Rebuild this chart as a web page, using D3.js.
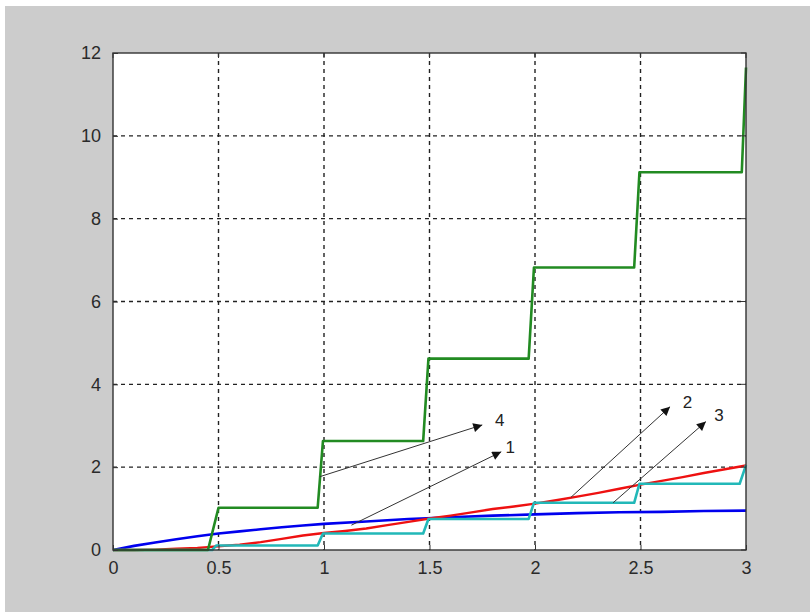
<!DOCTYPE html>
<html>
<head>
<meta charset="utf-8">
<script src="https://cdn.jsdelivr.net/npm/d3@7"></script>
<style>
  html, body { margin: 0; padding: 0; background: #ffffff; }
  svg { display: block; }
  text { font-family: "Liberation Sans", Arial, sans-serif; }
</style>
</head>
<body>
<script>
// ---- data ----
const xTicks = [0, 0.5, 1, 1.5, 2, 2.5, 3];
const xTickLabels = ["0", "0.5", "1", "1.5", "2", "2.5", "3"];
const yTicks = [0, 2, 4, 6, 8, 10, 12];
const yTickLabels = ["0", "2", "4", "6", "8", "10", "12"];

// curve 1 (blue)
const blueT = [0, 0.1, 0.2, 0.3, 0.4, 0.5, 0.6, 0.7, 0.8, 0.9, 1.0, 1.2, 1.4, 1.6, 1.8, 2.0, 2.2, 2.4, 2.6, 2.8, 3.0];
const blueV = [0, 0.10, 0.18, 0.26, 0.33, 0.40, 0.45, 0.50, 0.55, 0.59, 0.63, 0.69, 0.75, 0.79, 0.83, 0.86, 0.89, 0.91, 0.92, 0.94, 0.95];

// curve 2 (red)
const redT = [0, 0.1, 0.2, 0.3, 0.4, 0.45, 0.5, 0.6, 0.7, 0.8, 0.9, 1.0, 1.1, 1.2, 1.3, 1.4, 1.5, 1.6, 1.7, 1.8, 1.9, 2.0, 2.1, 2.2, 2.3, 2.4, 2.5, 2.6, 2.7, 2.8, 2.9, 3.0];
const redV = [0, 0.00, 0.01, 0.03, 0.05, 0.07, 0.09, 0.13, 0.19, 0.27, 0.35, 0.41, 0.46, 0.52, 0.60, 0.68, 0.76, 0.83, 0.91, 0.99, 1.05, 1.12, 1.20, 1.29, 1.38, 1.48, 1.58, 1.67, 1.76, 1.86, 1.95, 2.04];

// curve 3 (cyan)
const cyanT = [0, 0.47, 0.49, 0.97, 0.995, 1.47, 1.495, 1.97, 1.995, 2.47, 2.495, 2.97, 3.0];
const cyanV = [0, 0, 0.11, 0.11, 0.40, 0.40, 0.75, 0.75, 1.14, 1.14, 1.60, 1.60, 2.05];

// curve 4 (green)
const greenT = [0, 0.45, 0.50, 0.97, 0.995, 1.47, 1.495, 1.97, 1.995, 2.47, 2.495, 2.98, 3.0];
const greenV = [0, 0, 1.02, 1.02, 2.63, 2.63, 4.62, 4.62, 6.82, 6.82, 9.12, 9.12, 11.65];

// annotations: arrow start, arrow tip, label
const annLabels = ["4", "1", "2", "3"];
const annStartT = [0.98, 1.13, 2.17, 2.37];
const annStartV = [1.77, 0.60, 1.27, 1.14];
const annTipT = [1.75, 1.84, 2.64, 2.81];
const annTipV = [3.02, 2.37, 3.46, 3.10];
const annLabelT = [1.81, 1.86, 2.70, 2.85];
const annLabelV = [3.14, 2.48, 3.58, 3.26];

// ---- layout ----
const W = 810, H = 612;
const plot = { left: 113, right: 746, top: 53, bottom: 550 };

const svg = d3.select("body").append("svg").attr("width", W).attr("height", H);
svg.append("rect").attr("x", 5).attr("y", 6).attr("width", W - 5).attr("height", H - 6).attr("fill", "#cccccc");

const x = d3.scaleLinear().domain([0, 3]).range([plot.left, plot.right]);
const y = d3.scaleLinear().domain([0, 12]).range([plot.bottom, plot.top]);

svg.append("rect").attr("x", plot.left).attr("y", plot.top)
  .attr("width", plot.right - plot.left).attr("height", plot.bottom - plot.top).attr("fill", "#ffffff");

// grid
const grid = svg.append("g");
grid.selectAll("line.gx").data(xTicks.slice(1, -1)).enter().append("line")
  .attr("x1", d => x(d)).attr("x2", d => x(d)).attr("y1", plot.top).attr("y2", plot.bottom)
  .attr("stroke", "#222").attr("stroke-width", 1.4).attr("stroke-dasharray", "4,4");
grid.selectAll("line.gy").data(yTicks.slice(1, -1)).enter().append("line")
  .attr("y1", d => y(d)).attr("y2", d => y(d)).attr("x1", plot.left).attr("x2", plot.right)
  .attr("stroke", "#222").attr("stroke-width", 1.4).attr("stroke-dasharray", "4,4");

// curves
function zip(ts, vs) { return ts.map((t, i) => [t, vs[i]]); }
const line = d3.line().x(d => x(d[0])).y(d => y(d[1]));
const curves = [
  { data: zip(blueT, blueV), color: "#0000ee", w: 2.6 },
  { data: zip(redT, redV), color: "#ee1111", w: 2.4 },
  { data: zip(cyanT, cyanV), color: "#22b8b8", w: 2.6 },
  { data: zip(greenT, greenV), color: "#228b22", w: 2.6 }
];
const cg = svg.append("g");
curves.forEach(c => {
  cg.append("path").datum(c.data).attr("d", line).attr("fill", "none")
    .attr("stroke", c.color).attr("stroke-width", c.w).attr("stroke-linejoin", "round");
});

// annotations
const defs = svg.append("defs");
defs.append("marker").attr("id", "arr").attr("viewBox", "0 0 10 10").attr("refX", 10).attr("refY", 5)
  .attr("markerWidth", 14).attr("markerHeight", 9).attr("markerUnits", "userSpaceOnUse")
  .attr("orient", "auto")
  .append("path").attr("d", "M0,0 L10,5 L0,10 Z").attr("fill", "#111");
const ag = svg.append("g");
annLabels.forEach((lab, i) => {
  ag.append("line").attr("x1", x(annStartT[i])).attr("y1", y(annStartV[i]))
    .attr("x2", x(annTipT[i])).attr("y2", y(annTipV[i]))
    .attr("stroke", "#333").attr("stroke-width", 1).attr("marker-end", "url(#arr)");
  ag.append("text").attr("x", x(annLabelT[i])).attr("y", y(annLabelV[i]))
    .attr("dy", "0.35em").attr("font-size", 17).attr("fill", "#222").text(lab);
});

// axes box
const axG = svg.append("g");
axG.append("rect").attr("x", plot.left).attr("y", plot.top)
  .attr("width", plot.right - plot.left).attr("height", plot.bottom - plot.top)
  .attr("fill", "none").attr("stroke", "#333").attr("stroke-width", 1.4);

const xAxis = d3.axisBottom(x).tickValues(xTicks).tickFormat((d, i) => xTickLabels[i]).tickSizeInner(-5).tickSizeOuter(0).tickPadding(11);
const xa = svg.append("g").attr("transform", `translate(0,${plot.bottom})`).call(xAxis);
const yAxis = d3.axisLeft(y).tickValues(yTicks).tickFormat((d, i) => yTickLabels[i]).tickSizeInner(-5).tickSizeOuter(0).tickPadding(12);
const ya = svg.append("g").attr("transform", `translate(${plot.left},0)`).call(yAxis);
[xa, ya].forEach(g => {
  g.select(".domain").remove();
  g.selectAll(".tick line").attr("stroke", "#333");
  g.selectAll(".tick text").attr("font-size", 18).attr("fill", "#2a2a2a")
    .attr("font-family", "'Liberation Sans', Arial, sans-serif");
});
// top/right ticks
svg.append("g").selectAll("line").data(xTicks).enter().append("line")
  .attr("x1", d => x(d)).attr("x2", d => x(d)).attr("y1", plot.top).attr("y2", plot.top + 5).attr("stroke", "#333");
svg.append("g").selectAll("line").data(yTicks).enter().append("line")
  .attr("y1", d => y(d)).attr("y2", d => y(d)).attr("x1", plot.right).attr("x2", plot.right - 5).attr("stroke", "#333");
</script>
</body>
</html>
